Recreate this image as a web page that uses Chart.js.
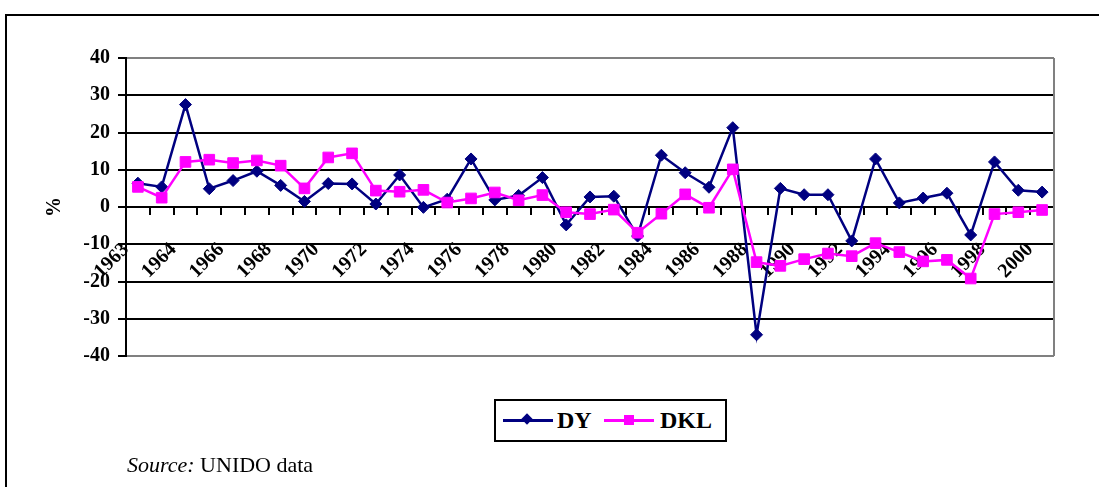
<!DOCTYPE html>
<html>
<head>
<meta charset="utf-8">
<script src="https://cdn.jsdelivr.net/npm/chart.js@4.4.1/dist/chart.umd.min.js"></script>
<style>
  body { margin: 0; background: #fff; }
  #wrap { position: relative; width: 1099px; height: 487px; overflow: hidden; }
  #marco { position: absolute; left: 5px; top: 14px; width: 1200px; height: 600px;
           border-top: 2px solid #000; border-left: 2px solid #000; }
  #grafico { position: absolute; left: 0; top: 0; }
  #leyenda { position: absolute; left: 494px; top: 399px; width: 229px; height: 39px;
             border: 2px solid #000; background: #fff; font: bold 24px 'Liberation Serif', 'Times New Roman', serif; }
  .item { position: absolute; top: 0; height: 39px; line-height: 39px; }
  .linea { position: absolute; height: 3px; width: 50px; top: 18px; }
  .marca { position: absolute; }
  #fuente { position: absolute; left: 127px; top: 452px; font: 22px 'Liberation Serif', 'Times New Roman', serif; }
</style>
</head>
<body>
<div id="wrap">
  <div id="marco"></div>
  <canvas id="grafico" width="1099" height="487"></canvas>
  <div id="leyenda">
    <div class="linea" style="left:7px;background:#000080"></div>
    <div class="marca" style="left:27px;top:14px;width:8px;height:8px;background:#000080;transform:rotate(45deg)"></div>
    <div class="item" style="left:61px">DY</div>
    <div class="linea" style="left:108px;background:#FF00FF"></div>
    <div class="marca" style="left:128px;top:14px;width:10px;height:10px;background:#FF00FF"></div>
    <div class="item" style="left:164px">DKL</div>
  </div>
  <div id="fuente"><i>Source:</i> UNIDO data</div>
</div>
<script>
// datos
const tickLabels = ['1963', '1964', '1966', '1968', '1970', '1972', '1974', '1976', '1978', '1980',
  '1982', '1984', '1986', '1988', '1990', '1992', '1994', '1996', '1998', '2000'];

const dy = [6.4, 5.4, 27.5, 4.9, 7.1, 9.6, 5.8, 1.5, 6.3, 6.2, 0.8, 8.6, -0.1, 2.1, 12.9, 1.9, 3.1, 7.9, -4.8, 2.7,
  2.9, -7.8, 13.9, 9.2, 5.3, 21.3, -34.3, 5.0, 3.3, 3.3, -9.1, 12.9, 1.1, 2.4, 3.7, -7.5, 12.1, 4.5, 4.0];

const dkl = [5.4, 2.5, 12.1, 12.7, 11.8, 12.5, 11.1, 5.0, 13.3, 14.4, 4.4, 4.1, 4.6, 1.2, 2.3, 3.9, 1.8, 3.2, -1.4, -1.9,
  -0.7, -6.9, -1.8, 3.4, -0.2, 10.1, -14.8, -15.8, -14.0, -12.5, -13.2, -9.7, -12.1, -14.6, -14.2, -19.2, -1.9, -1.4, -0.8];

// una etiqueta cada dos categorias
const categorias = dy.map((v, i) => i % 2 === 0 ? tickLabels[i / 2] : '');

const fuenteTicks = { family: "'Liberation Serif', 'Times New Roman', serif", size: 20, weight: 'bold' };

// borde gris del area de trazado (derecha)
const bordeGris = {
  id: 'bordeGris',
  beforeDatasetsDraw(chart) {
    const a = chart.chartArea;
    const c = chart.ctx;
    c.save();
    c.strokeStyle = '#808080';
    c.lineWidth = 2;
    c.beginPath();
    c.moveTo(a.right, a.top);
    c.lineTo(a.right, a.bottom);
    c.stroke();
    c.restore();
  }
};

const ctx = document.getElementById('grafico').getContext('2d');
new Chart(ctx, {
  type: 'line',
  data: {
    labels: categorias,
    datasets: [{
      label: 'DY',
      data: dy,
      borderColor: '#000080',
      backgroundColor: '#000080',
      borderWidth: 2.5,
      pointStyle: 'rectRot',
      pointRadius: 6,
      pointBorderWidth: 1,
      order: 2
    }, {
      label: 'DKL',
      data: dkl,
      borderColor: '#FF00FF',
      backgroundColor: '#FF00FF',
      borderWidth: 2.5,
      pointStyle: 'rect',
      pointRadius: 7.5,
      pointBorderWidth: 1,
      order: 1
    }]
  },
  options: {
    responsive: false,
    animation: false,
    layout: { padding: { top: 58, right: 45, bottom: 131, left: 39 } },
    plugins: {
      legend: { display: false },
      tooltip: { enabled: false }
    },
    scales: {
      x: {
        position: { y: 0 },
        offset: true,
        grid: { drawOnChartArea: false, drawTicks: true, tickLength: 7, color: '#000', lineWidth: 2, offset: true },
        border: { display: true, color: '#000', width: 2 },
        ticks: {
          autoSkip: false, maxRotation: 45, minRotation: 45, padding: 24, labelOffset: -12,
          color: '#000', font: fuenteTicks
        }
      },
      y: {
        min: -40,
        max: 40,
        afterFit: s => { s.width = 87; },
        ticks: { stepSize: 10, color: '#000', padding: 8, font: fuenteTicks },
        grid: {
          color: c => (c.tick && Math.abs(c.tick.value) === 40) ? '#808080' : '#000',
          tickColor: '#000',
          lineWidth: 2,
          tickLength: 8
        },
        border: { display: true, color: '#000', width: 2 },
        title: { display: true, text: '%', color: '#000', font: { family: "'Liberation Serif', 'Times New Roman', serif", size: 20, weight: 'bold' } }
      }
    }
  },
  plugins: [bordeGris]
});
</script>
</body>
</html>
